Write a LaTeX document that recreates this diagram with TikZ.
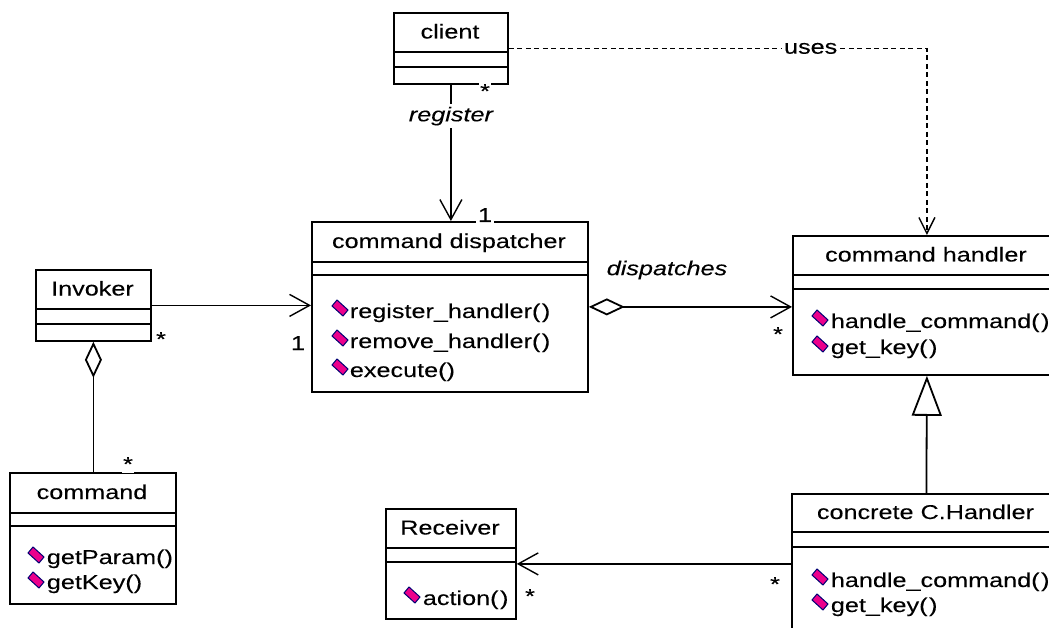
\documentclass[tikz,border=0pt]{standalone}
\usepackage{fontspec}
\setmainfont{Liberation Sans}[FakeStretch=1.26,FakeBold=0.1]
\usetikzlibrary{arrows.meta,calc}
\newcommand{\prs}{(\kern1.5pt)}
\begin{document}
\begin{tikzpicture}[x=1pt,y=-1pt,line width=1.8pt,
  umlbox/.style={draw,line width=1.8pt,anchor=north west,inner sep=0pt,minimum width=#1},
  ttl/.style={font=\fontsize{20}{23}\selectfont,inner sep=0pt,anchor=base},
  optext/.style={font=\fontsize{20}{23}\selectfont,inner sep=0pt,anchor=base west},
  lbl/.style={font=\fontsize{20}{23}\selectfont\itshape,fill=white,inner sep=3pt},
  mult/.style={font=\fontsize{20}{23}\selectfont,fill=white,inner sep=1.5pt,anchor=base},
  assoc/.style={-{Straight Barb[length=20pt,width=22pt,line width=1.4pt]}},
  depend/.style={line width=1.5pt,dash pattern=on 5pt off 3.5pt,-{Straight Barb[length=16pt,width=16pt,line width=1.4pt]}},
  aggr/.style={{Diamond[open,length=36pt,width=17pt,fill=white]}-{Straight Barb[length=20pt,width=22pt,line width=1.4pt]}},
  aggronly/.style={{Diamond[open,length=36pt,width=17pt,fill=white]}-},
  gener/.style={-{Triangle[open,length=40pt,width=30pt,fill=white]}},
  opicon/.pic={\filldraw[fill=magenta,draw=blue!45!black,line width=1pt]
     (-8,-2) -- (-3,-8) -- (8,2) -- (3,8) -- cycle;}
]
\useasboundingbox (0,0) rectangle (1049,628);
\clip (0,0) rectangle (1049,628);

% ---------- class boxes ----------
\node[umlbox=114pt,minimum height=71pt] (client) at (393,12) {};
\draw (393,52) -- (507,52) (393,67) -- (507,67);
\node[ttl] (clientT) at (450,38.5) {client};

\node[umlbox=276pt,minimum height=170pt] (disp) at (311,221) {};
\draw (311,262) -- (587,262) (311,275) -- (587,275);
\node[ttl] (dispT) at (449,248) {command dispatcher};
\node[optext] (d1) at (349,318) {register\_handler\prs};
\node[optext] (d2) at (349,348) {remove\_handler\prs};
\node[optext] (d3) at (349,377) {execute()};
\pic at (340,308) {opicon};
\pic at (340,338) {opicon};
\pic at (340,367) {opicon};

\node[umlbox=268pt,minimum height=139pt] (handler) at (792,235) {};
\draw (792,275) -- (1060,275) (792,289) -- (1060,289);
\node[ttl] (handlerT) at (926,261.5) {command handler};
\node[optext] (h1) at (830,328) {handle\_command\prs};
\node[optext] (h2) at (830,354) {get\_key\prs};
\pic at (820,318) {opicon};
\pic at (820,344) {opicon};

\node[umlbox=115pt,minimum height=71pt] (invoker) at (35,269) {};
\draw (35,309) -- (150,309) (35,324) -- (150,324);
\node[ttl] (invokerT) at (92.5,295.5) {Invoker};

\node[umlbox=166pt,minimum height=131pt] (command) at (9,472) {};
\draw (9,513) -- (175,513) (9,526) -- (175,526);
\node[ttl] (commandT) at (92,499) {command};
\node[optext] (c1) at (46,564) {getParam()};
\node[optext] (c2) at (46,589) {getKey()};
\pic at (36,555) {opicon};
\pic at (36,580) {opicon};

\node[umlbox=130pt,minimum height=110pt] (receiver) at (385,508) {};
\draw (385,548) -- (515,548) (385,562) -- (515,562);
\node[ttl] (receiverT) at (450,534.5) {Receiver};
\node[optext] (r1) at (422,605) {action\prs};
\pic at (412,595) {opicon};

\node[umlbox=269pt,minimum height=160pt] (concrete) at (791,493) {};
\draw (791,532) -- (1060,532) (791,547) -- (1060,547);
\node[ttl] (concreteT) at (925.5,519) {concrete C.Handler};
\node[optext] (k1) at (830,587) {handle\_command\prs};
\node[optext] (k2) at (830,612) {get\_key\prs};
\pic at (820,577) {opicon};
\pic at (820,602) {opicon};

% ---------- connectors ----------
\draw[assoc] (client.south) -- (client.south |- disp.north)
  node[lbl,pos=0.23] (reg) {register};
\draw[depend] (client.east) -| (handler.north)
  node[lbl,pos=0.361,font=\fontsize{20}{23}\selectfont,inner sep=2pt] (uses) {uses};
\draw[assoc] (invoker.east) -- (invoker.east -| disp.west);
\draw[aggr] (disp.east) -- (disp.east -| handler.west);
\node[lbl,inner sep=0pt] (disl) at (667,270) {dispatches};
\draw[aggronly] (invoker.south) -- (invoker.south |- command.north);
\draw[gener] (concrete.north) -- (handler.south);
\draw[assoc] (concrete.west |- receiver.east) -- (receiver.east);

% ---------- multiplicities ----------
\node[mult] (m1) at (485,98) {*};
\node[mult] (m2) at (485,222) {1};
\node[mult] (m3) at (161,346) {*};
\node[mult] (m4) at (298,350) {1};
\node[mult] (m5) at (778,341) {*};
\node[mult] (m6) at (128,471) {*};
\node[mult] (m7) at (530,603) {*};
\node[mult] (m8) at (775,591) {*};
\end{tikzpicture}
\end{document}
